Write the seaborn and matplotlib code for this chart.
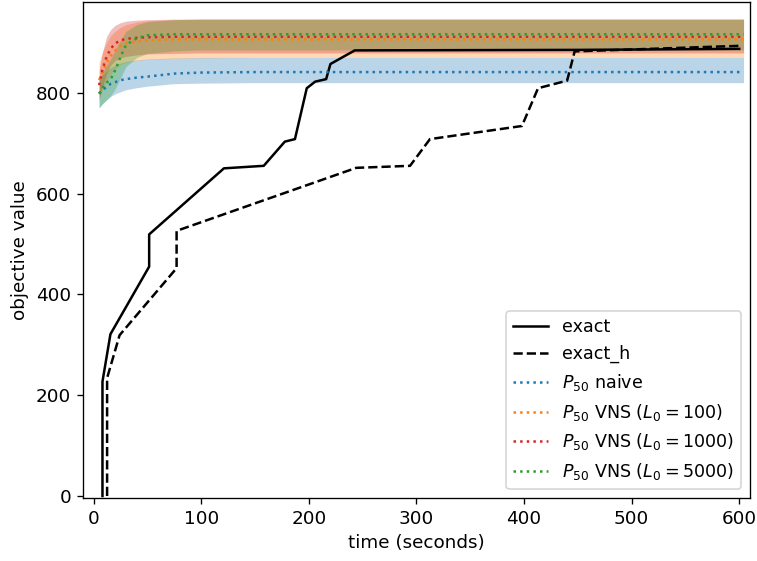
import numpy as np
import matplotlib
matplotlib.use("Agg")
import matplotlib.pyplot as plt
import seaborn as sns

# exact solver progress (time in seconds, objective value)
exact_t = [8.1, 8.1, 15.5, 51.5, 51.5, 121, 158, 177.6, 187, 198, 205.8, 216, 220, 242.6, 450, 600]
exact_v = [0, 227, 321, 455, 519, 650, 655, 703, 708, 809, 822, 827, 857, 884, 885, 887]

exact_h_t = [12.4, 12.4, 24, 77, 77, 244, 294, 312.5, 398, 413, 440, 447, 600]
exact_h_v = [0, 234, 319, 452, 526, 651, 655, 708, 734, 809, 824, 882, 893]

# P50 heuristics: median with lower / upper band
p50_t = [5, 8, 12, 16, 20, 25, 30, 40, 50, 75, 100, 150, 250, 400, 604]

naive_med = [798, 805, 812, 818, 821, 825, 827, 830, 832, 838, 840, 841, 841, 841, 841]
naive_lo = [770, 778, 786, 793, 798, 802, 806, 810, 813, 818, 819, 820, 820, 820, 820]
naive_hi = [826, 835, 843, 850, 855, 859, 862, 865, 867, 869, 870, 870, 870, 870, 870]

vns100_med = [825, 840, 860, 874, 884, 893, 898, 902, 904, 906, 906, 906, 906, 906, 906]
vns100_lo = [790, 805, 822, 838, 848, 856, 860, 864, 866, 868, 869, 870, 870, 870, 870]
vns100_hi = [860, 880, 900, 914, 922, 930, 935, 940, 943, 945, 946, 946, 946, 946, 946]

vns1000_med = [815, 845, 872, 888, 898, 904, 907, 909, 910, 911, 911, 911, 911, 911, 911]
vns1000_lo = [785, 812, 838, 855, 864, 869, 872, 875, 877, 878, 879, 879, 879, 879, 879]
vns1000_hi = [845, 880, 912, 926, 934, 939, 942, 944, 945, 946, 946, 946, 946, 946, 946]

vns5000_med = [798, 810, 820, 828, 845, 872, 895, 908, 914, 916, 916, 916, 916, 916, 916]
vns5000_lo = [770, 778, 786, 795, 808, 830, 852, 870, 878, 883, 885, 885, 885, 885, 885]
vns5000_hi = [826, 840, 855, 868, 885, 905, 922, 935, 941, 945, 946, 946, 946, 946, 946]

series = [
    (r"$P_{50}$ naive", naive_med, naive_lo, naive_hi, "C0"),
    (r"$P_{50}$ VNS ($L_0 = 100$)", vns100_med, vns100_lo, vns100_hi, "C1"),
    (r"$P_{50}$ VNS ($L_0 = 1000$)", vns1000_med, vns1000_lo, vns1000_hi, "C3"),
    (r"$P_{50}$ VNS ($L_0 = 5000$)", vns5000_med, vns5000_lo, vns5000_hi, "C2"),
]

plt.rcParams["font.size"] = 11

fig = plt.figure(figsize=(757 / 120, 561 / 120), dpi=120)
ax = fig.add_axes([83 / 757, (561 - 498) / 561, (750 - 83) / 757, (498 - 2) / 561])

sns.lineplot(x=exact_t, y=exact_v, color="black", label="exact", sort=False,
             estimator=None, ax=ax)
sns.lineplot(x=exact_h_t, y=exact_h_v, color="black", linestyle="--", label="exact_h",
             sort=False, estimator=None, ax=ax)

for label, med, lo, hi, col in series:
    sns.lineplot(x=p50_t, y=med, color=col, linestyle=":", label=label,
                 estimator=None, ax=ax)
    ax.fill_between(p50_t, lo, hi, color=col, alpha=0.3, linewidth=0)

ax.set_xlim(-10, 610)
ax.set_ylim(-4, 980)
ax.set_xticks(np.arange(0, 601, 100))
ax.set_yticks(np.arange(0, 801, 200))
ax.set_xlabel("time (seconds)")
ax.set_ylabel("objective value")
ax.legend(loc="lower right", fontsize=10.5)

fig.savefig("out.png", dpi=120)
